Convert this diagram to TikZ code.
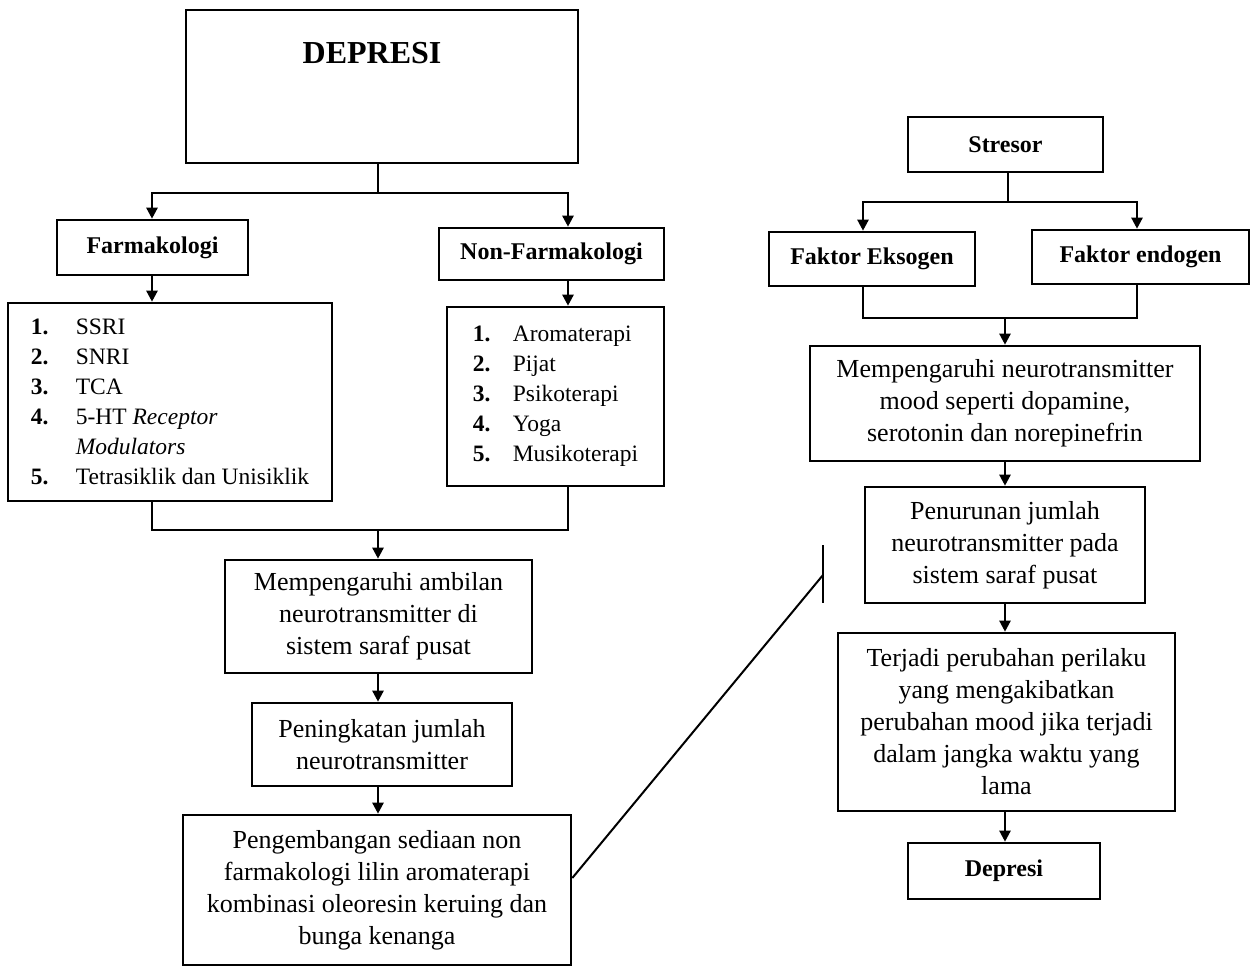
\documentclass[tikz,border=0pt]{standalone}
\usepackage{fontspec}
\setmainfont{Liberation Serif}
\usetikzlibrary{arrows.meta,calc}
\begin{document}
\begin{tikzpicture}[x=1pt,y=-1pt,
  box/.style={draw, line width=2.6pt, inner sep=0pt, align=center,
    font=\fontsize{26}{32}\selectfont},
  lbl/.style={box, font=\fontsize{24}{28}\selectfont\bfseries},
  lst/.style={box, align=left, font=\fontsize{23.5}{30}\selectfont},
  conn/.style={line width=2.4pt},
  arr/.style={conn, -{Triangle[length=11pt,width=11pt]}},
  thin/.style={line width=2pt}]
\useasboundingbox (0,0) rectangle (1254,967);
% left column
\node[box, minimum width=392pt, minimum height=153pt] (depresi) at (382,86.5) {};
\node[font=\fontsize{32}{36}\selectfont\bfseries, inner sep=0pt] (depresitxt) at (372,53) {DEPRESI};
\node[lbl, minimum width=191pt, minimum height=55pt] (farm) at (152.5,247.5) {Farmakologi};
\node[lbl, minimum width=225pt, minimum height=52pt] (nonfarm) at (551.5,254) {Non-Farmakologi};
\node[lst, minimum width=324pt, minimum height=198pt] (farmlist) at (170,402) {%
\makebox[45pt][l]{\textbf{1.}}SSRI\\
\makebox[45pt][l]{\textbf{2.}}SNRI\\
\makebox[45pt][l]{\textbf{3.}}TCA\\
\makebox[45pt][l]{\textbf{4.}}5-HT \textit{Receptor}\\
\makebox[45pt][l]{}\textit{Modulators}\\
\makebox[45pt][l]{\textbf{5.}}Tetrasiklik dan Unisiklik};
\node[lst, minimum width=217pt, minimum height=179pt] (nflist) at (555.5,396.5) {%
\makebox[40pt][l]{\textbf{1.}}Aromaterapi\\
\makebox[40pt][l]{\textbf{2.}}Pijat\\
\makebox[40pt][l]{\textbf{3.}}Psikoterapi\\
\makebox[40pt][l]{\textbf{4.}}Yoga\\
\makebox[40pt][l]{\textbf{5.}}Musikoterapi};
\node[box, minimum width=307pt, minimum height=113pt] (ambil) at (378.5,616.5) {Mempengaruhi ambilan\\neurotransmitter di\\sistem saraf pusat};
\node[box, minimum width=260pt, minimum height=83pt] (tingkat) at (382,744.5) {Peningkatan jumlah\\neurotransmitter};
\node[box, minimum width=388pt, minimum height=150pt] (kembang) at (377,890) {Pengembangan sediaan non\\farmakologi lilin aromaterapi\\kombinasi oleoresin keruing dan\\bunga kenanga};
% right column
\node[lbl, minimum width=195pt, minimum height=55pt] (stresor) at (1005.5,144.5) {Stresor};
\node[lbl, minimum width=206pt, minimum height=54pt] (eks) at (872,259) {Faktor Eksogen};
\node[lbl, minimum width=217pt, minimum height=54pt] (endo) at (1140.5,257) {Faktor endogen};
\node[box, minimum width=390pt, minimum height=115pt] (mood) at (1005,403.5) {Mempengaruhi neurotransmitter\\mood seperti dopamine,\\serotonin dan norepinefrin};
\node[box, minimum width=280pt, minimum height=116pt] (turun) at (1005,545) {Penurunan jumlah\\neurotransmitter pada\\sistem saraf pusat};
\node[box, minimum width=337pt, minimum height=178pt] (terjadi) at (1006.5,722) {Terjadi perubahan perilaku\\yang mengakibatkan\\perubahan mood jika terjadi\\dalam jangka waktu yang\\lama};
\node[lbl, minimum width=192pt, minimum height=56pt] (dep) at (1004,871) {Depresi};
% junction coordinates
\coordinate (j1) at (378,193);
\coordinate (xf) at (152,0);
\coordinate (xn) at (568,0);
\coordinate (j2) at (378,530);
\coordinate (j3) at (1008,202);
\coordinate (xe) at (863,0);
\coordinate (xd) at (1137,0);
\coordinate (j4) at (1005,318);
\coordinate (diagA) at (571,878);
\coordinate (diagB) at (823,575);
\coordinate (barT) at (823,545);
\coordinate (barB) at (823,603);
% left connectors
\draw[conn] (j1 |- depresi.south) -- (j1);
\draw[arr] (j1) -| (xf |- farm.north);
\draw[arr] (j1) -| (xn |- nonfarm.north);
\draw[arr] (xf |- farm.south) -- (xf |- farmlist.north);
\draw[arr] (xn |- nonfarm.south) -- (xn |- nflist.north);
\draw[conn] (xf |- farmlist.south) |- (j2) -| (xn |- nflist.south);
\draw[arr] (j2) -- (j2 |- ambil.north);
\draw[arr] (j2 |- ambil.south) -- (j2 |- tingkat.north);
\draw[arr] (j2 |- tingkat.south) -- (j2 |- kembang.north);
% diagonal link
\draw[thin] (kembang.east |- diagA) -- (diagB);
\draw[conn] (barT) -- (barB);
% right connectors
\draw[conn] (j3 |- stresor.south) -- (j3);
\draw[arr] (j3) -| (xe |- eks.north);
\draw[arr] (j3) -| (xd |- endo.north);
\draw[conn] (xe |- eks.south) |- (j4) -| (xd |- endo.south);
\draw[arr] (j4) -- (j4 |- mood.north);
\draw[arr] (j4 |- mood.south) -- (j4 |- turun.north);
\draw[arr] (j4 |- turun.south) -- (j4 |- terjadi.north);
\draw[arr] (j4 |- terjadi.south) -- (j4 |- dep.north);
\end{tikzpicture}
\end{document}
